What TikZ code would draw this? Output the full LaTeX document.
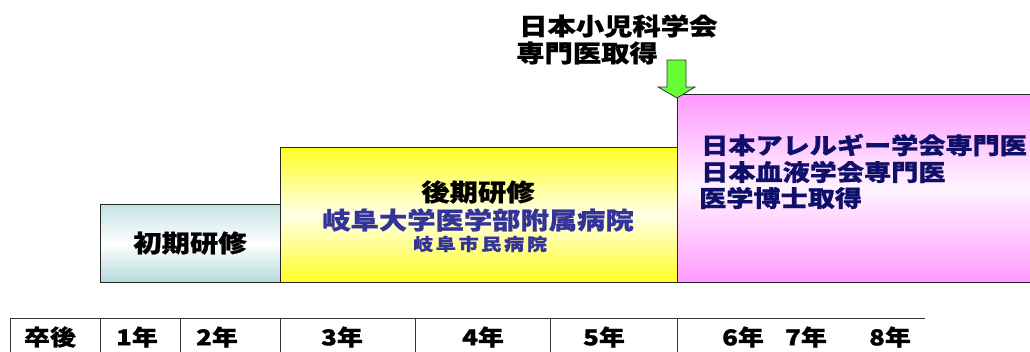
\documentclass[tikz,border=0pt]{standalone}
\usepackage{fontspec}
\setmainfont{Noto Sans CJK JP}[FakeStretch=1.18, BoldFeatures={FakeBold=0.8}]
\newfontfamily\jpsp{Noto Sans CJK JP}[FakeStretch=1.18,LetterSpace=16, BoldFeatures={FakeBold=0.8}]
\definecolor{cyantop}{HTML}{C4E2E4}
\definecolor{cyanbot}{HTML}{B4DADC}
\definecolor{yel}{HTML}{FFFF22}
\definecolor{yelmid}{HTML}{FFFFE8}
\definecolor{pnk}{HTML}{FF99FF}
\definecolor{pnkmid}{HTML}{FFF4FF}
\definecolor{hosp}{HTML}{333399}
\definecolor{navy}{HTML}{10106A}
\definecolor{arrgreen}{HTML}{66FF33}
\tikzset{
  stagebox/.style={draw=black!85, line width=0.9pt, anchor=north west, inner sep=0pt},
  lbl/.style={font=\bfseries\fontsize{24}{28}\selectfont, inner sep=0pt},
  speclbl/.style={font=\bfseries\fontsize{23}{27}\selectfont, inner sep=0pt, text=navy, anchor=west},
  yearlbl/.style={font=\bfseries\fontsize{22}{26}\selectfont, inner sep=0pt, anchor=center},
  rule/.style={draw=black!80, line width=0.9pt}
}
\begin{document}
\begin{tikzpicture}[x=1pt,y=-1pt]
\clip (0,0) rectangle (1030,351);
\fill[white] (0,0) rectangle (1030,351);
% stage boxes
\node[stagebox, minimum width=180pt, minimum height=78pt, top color=cyantop, bottom color=cyanbot, middle color=white] (early) at (100,204) {};
\node[stagebox, minimum width=397pt, minimum height=135pt, top color=yel, bottom color=yel, middle color=yelmid] (late) at (280,147) {};
\node[stagebox, minimum width=370pt, minimum height=188pt, top color=pnk, bottom color=pnk, middle color=pnkmid] (spec) at (677,94) {};
% texts in boxes
\node[lbl] (earlyt) at (190,243) {初期研修};
\node[lbl] (latet) at (478,192) {後期研修};
\node[lbl, text=hosp] (gifu) at (478,220) {岐阜大学医学部附属病院};
\node[inner sep=0pt, text=hosp, font=\jpsp\bfseries\fontsize{17}{20}\selectfont] (city) at (480,244) {岐阜市民病院};
\node[speclbl] (s1) at (701,145) {日本アレルギー学会専門医};
\node[speclbl] (s2) at (701,172) {日本血液学会専門医};
\node[speclbl] (s3) at (699,198) {医学博士取得};
% top annotation and arrow
\node[lbl, anchor=west] (ped1) at (519,26) {日本小児科学会};
\node[lbl, anchor=west] (ped2) at (516,53) {専門医取得};
\coordinate (tip) at (677,98);
\draw[fill=arrgreen, draw=black!80, line width=0.8pt, line join=miter]
  (667,60) -- (686,60) -- (686,87) -- (695,87) -- (tip) -- (658,87) -- (667,87) -- cycle;
% year table
\draw[rule] (10,318) -- (925,318);
\foreach \xx in {10,100,180,280,415,550,677} { \draw[rule] (\xx,318) -- (\xx,360); }
\node[yearlbl] (y0) at (50,337) {卒後};
\node[yearlbl] (y1) at (137,337) {1年};
\node[yearlbl] (y2) at (217,337) {2年};
\node[yearlbl] (y3) at (342,337) {3年};
\node[yearlbl] (y4) at (483,337) {4年};
\node[yearlbl] (y5) at (604,337) {5年};
\node[yearlbl] (y6) at (743,337) {6年};
\node[yearlbl] (y7) at (806,337) {7年};
\node[yearlbl] (y8) at (890,337) {8年};
\end{tikzpicture}
\end{document}
